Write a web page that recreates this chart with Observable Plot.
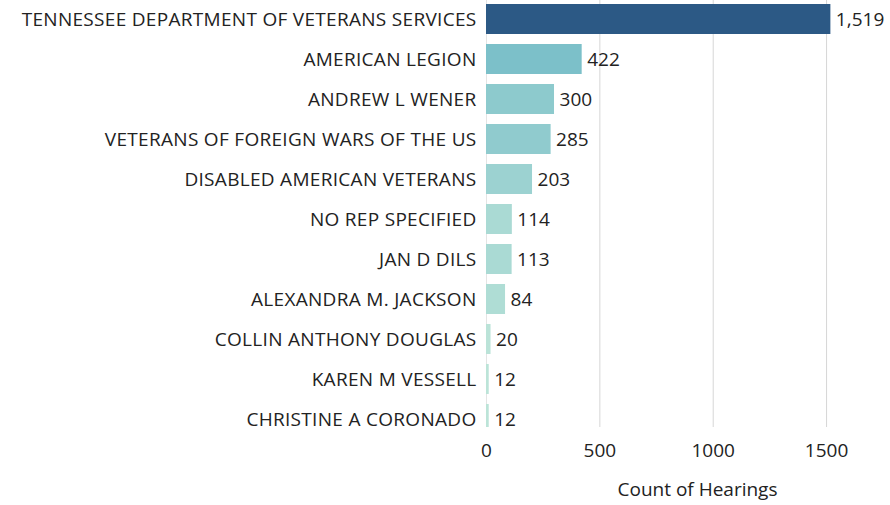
<!DOCTYPE html>
<html>
<head>
<meta charset="utf-8">
<script src="https://cdn.jsdelivr.net/npm/d3@7"></script>
<script src="https://cdn.jsdelivr.net/npm/@observablehq/plot@0.6"></script>
<style>
  html, body { margin: 0; padding: 0; background: #fff; }
  #chart svg { display: block; }
  #chart g[aria-label="y-axis tick label"] text { letter-spacing: 0.3px; }
</style>
</head>
<body>
<div id="chart"></div>
<script>
const names = [
  "TENNESSEE DEPARTMENT OF VETERANS SERVICES",
  "AMERICAN LEGION",
  "ANDREW L WENER",
  "VETERANS OF FOREIGN WARS OF THE US",
  "DISABLED AMERICAN VETERANS",
  "NO REP SPECIFIED",
  "JAN D DILS",
  "ALEXANDRA M. JACKSON",
  "COLLIN ANTHONY DOUGLAS",
  "KAREN M VESSELL",
  "CHRISTINE A CORONADO"
];
const counts = [1519, 422, 300, 285, 203, 114, 113, 84, 20, 12, 12];
const xTicks = [0, 500, 1000, 1500];
const xTitle = "Count of Hearings";
const palette = ["#bce4d8", "#aedcd5", "#a1d5d2", "#95cecf", "#89c8cc", "#7ec1ca", "#72bac6", "#66b2c2", "#59acbe", "#4ba5ba", "#419eb6", "#3b96b2", "#358ead", "#3586a7", "#347ea1", "#32779b", "#316f96", "#2f6790", "#2d608a", "#2c5985"];

const data = names.map((name, i) => ({name, count: counts[i]}));
const fmt = d3.format(",");

const chart = Plot.plot({
  width: 890,
  height: 505,
  marginLeft: 486,
  marginRight: 0,
  marginTop: 0,
  marginBottom: 78,
  style: {fontFamily: "Open Sans", fontSize: "19px", color: "#222", background: "#fff"},
  x: {domain: [0, 1782], label: null},
  y: {domain: names, range: [-1, 439], paddingInner: 0.25, paddingOuter: 0.125, label: null},
  color: {type: "linear", domain: [d3.min(counts), d3.max(counts)], interpolate: d3.piecewise(d3.interpolateRgb, palette)},
  marks: [
    Plot.gridX(xTicks.slice(1), {stroke: "#d6d6d6", strokeOpacity: 1}),
    Plot.ruleX([0], {stroke: "#e4e4e4"}),
    Plot.barX(data, {x: "count", y: "name", fill: "count", clip: "frame"}),
    Plot.text(data, {x: "count", y: "name", text: d => fmt(d.count), textAnchor: "start", dx: 5, fill: "#222", fontSize: 19}),
    Plot.axisX({ticks: xTicks, tickSize: 0, tickPadding: 16, tickFormat: d => String(d), label: null, fontSize: 19, fill: "#222"}),
    Plot.axisY({tickSize: 0, tickPadding: 10, label: null, fontSize: 19, fill: "#222"}),
    Plot.text([xTitle], {frameAnchor: "bottom", lineAnchor: "middle", dy: 62, dx: 9, fontSize: 19, fill: "#222"})
  ]
});
document.getElementById("chart").appendChild(chart);
</script>
</body>
</html>
